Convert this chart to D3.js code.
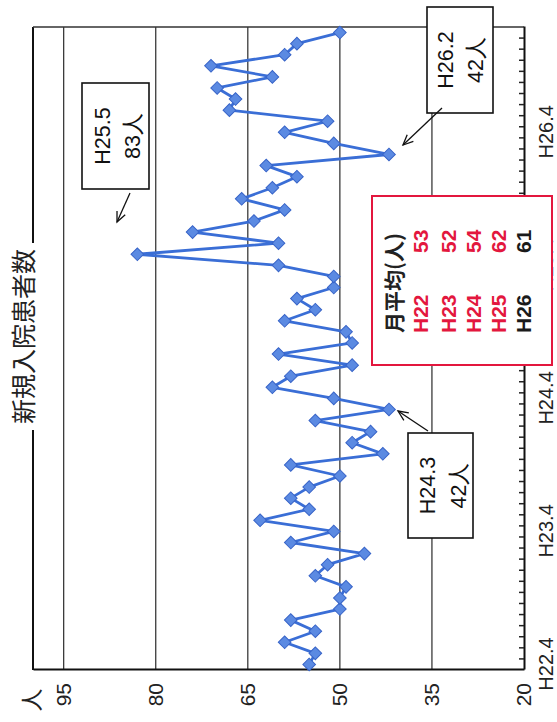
<!DOCTYPE html>
<html>
<head>
<meta charset="utf-8">
<script src="https://cdn.jsdelivr.net/npm/d3@7"></script>
<style>
  html, body { margin: 0; padding: 0; background: #fff; }
  svg { display: block; }
</style>
</head>
<body>
<svg id="chart" width="557" height="722"></svg>
<script>
// ---------------- DATA ----------------
const months = [
  "H22.4","H22.5","H22.6","H22.7","H22.8","H22.9","H22.10","H22.11","H22.12","H23.1","H23.2","H23.3",
  "H23.4","H23.5","H23.6","H23.7","H23.8","H23.9","H23.10","H23.11","H23.12","H24.1","H24.2","H24.3",
  "H24.4","H24.5","H24.6","H24.7","H24.8","H24.9","H24.10","H24.11","H24.12","H25.1","H25.2","H25.3",
  "H25.4","H25.5","H25.6","H25.7","H25.8","H25.9","H25.10","H25.11","H25.12","H26.1","H26.2","H26.3",
  "H26.4","H26.5","H26.6","H26.7","H26.8","H26.9","H26.10","H26.11","H26.12","H27.1"
];
const patients = [
  55,54,59,54,58,50,50,49,54,52,46,58,
  51,63,55,58,55,50,58,43,48,45,54,42,
  51,61,58,48,60,48,49,59,54,57,51,51,
  60,83,60,74,64,59,66,61,57,62,42,51,
  59,52,68,67,70,61,71,59,57,50
];
const monthTickLabels = ["H22.4","H23.4","H24.4","H25.4","H26.4"];
const valueTicks = [20,35,50,65,80,95];
const title = "新規入院患者数";
const unitLabel = "人";
const fiscalYears = ["H22","H23","H24","H25","H26"];
const monthlyAverages = [53,52,54,62,61];
const legendTitle = "月平均(人)";
const callouts = [
  { month: "H25.5", value: 83, line1: "H25.5", line2: "83人" },
  { month: "H26.2", value: 42, line1: "H26.2", line2: "42人" },
  { month: "H24.3", value: 42, line1: "H24.3", line2: "42人" }
];

// ---------------- LAYOUT ----------------
const W = 557, H = 722;
const svg = d3.select("#chart");
// Inner (unrotated) frame: width = H (722), height = W (557)
const g = svg.append("g").attr("transform", `translate(0,${H}) rotate(-90)`);

const plotLeft = 52, plotRight = 695, plotTop = 33, plotBottom = 524;
const latin = "'Liberation Sans', Arial, sans-serif";
const jp = "'Noto Sans CJK JP', 'Noto Sans', sans-serif";
const red = "#e3173e";

const x = d3.scalePoint().domain(months).range([plotLeft, plotRight]).padding(0.5);
const y = d3.scaleLinear().domain([20, 100]).range([plotBottom, plotTop]);
const step = x.step();

// gridlines
g.append("g").selectAll("line")
  .data(valueTicks.filter(v => v > 20))
  .join("line")
  .attr("x1", plotLeft).attr("x2", plotRight)
  .attr("y1", d => y(d)).attr("y2", d => y(d))
  .attr("stroke", "#2a2a2a").attr("stroke-width", 1.2);

// frame: top border (broken by title), right border
const titleGap = [292, 479];
g.append("line").attr("x1", plotLeft).attr("x2", titleGap[0]).attr("y1", plotTop).attr("y2", plotTop)
  .attr("stroke", "#111").attr("stroke-width", 2);
g.append("line").attr("x1", titleGap[1]).attr("x2", plotRight).attr("y1", plotTop).attr("y2", plotTop)
  .attr("stroke", "#111").attr("stroke-width", 2);
g.append("line").attr("x1", plotRight).attr("x2", plotRight).attr("y1", plotTop).attr("y2", plotBottom)
  .attr("stroke", "#333").attr("stroke-width", 1.5);

// value axis
const yAxis = g.append("g").attr("transform", `translate(${plotLeft},0)`)
  .call(d3.axisLeft(y).tickValues(valueTicks).tickSize(0).tickPadding(13));
yAxis.select(".domain").attr("stroke", "#111").attr("stroke-width", 2);
yAxis.selectAll("text").attr("font-family", latin).attr("font-size", 21).attr("fill", "#222");

// time axis
const xAxis = g.append("g").attr("transform", `translate(0,${plotBottom})`)
  .call(d3.axisBottom(x).tickValues(monthTickLabels).tickSize(0).tickPadding(15));
xAxis.select(".domain").attr("stroke", "#111").attr("stroke-width", 2);
xAxis.selectAll("text").attr("font-family", latin).attr("font-size", 20).attr("fill", "#222");
// monthly minor ticks (between categories, inside)
g.append("g").selectAll("line")
  .data(months.slice(1))
  .join("line")
  .attr("x1", d => x(d) - step / 2).attr("x2", d => x(d) - step / 2)
  .attr("y1", plotBottom).attr("y2", plotBottom - 5)
  .attr("stroke", "#222").attr("stroke-width", 1.5);

// title
g.append("text").attr("x", (titleGap[0] + titleGap[1]) / 2).attr("y", 22)
  .attr("text-anchor", "middle").attr("dominant-baseline", "central")
  .attr("font-family", jp).attr("font-size", 25).attr("fill", "#222").text(title);
// unit
g.append("text").attr("x", 22).attr("y", 30)
  .attr("text-anchor", "middle").attr("dominant-baseline", "central")
  .attr("font-family", jp).attr("font-size", 23).attr("fill", "#222").text(unitLabel);

// series
const line = d3.line().x((d, i) => x(months[i])).y(d => y(d));
g.append("path").datum(patients)
  .attr("d", line).attr("fill", "none")
  .attr("stroke", "#3a6ed6").attr("stroke-width", 2.8).attr("stroke-linejoin", "round");
g.append("g").selectAll("path")
  .data(patients)
  .join("path")
  .attr("d", d3.symbol(d3.symbolSquare, 80))
  .attr("transform", (d, i) => `translate(${x(months[i])},${y(d)}) rotate(45)`)
  .attr("fill", "#5b8ae2").attr("stroke", "#3864c8").attr("stroke-width", 1);

// callout boxes (layout positions in inner frame)
const boxLayout = [
  { x0: 533, x1: 639, y0: 82, y1: 149, b1: 110, b2: 140, arrow: [529, 130, 500, 117] },
  { x0: 609, x1: 715, y0: 427, y1: 493, b1: 453, b2: 483, arrow: [614, 442, 577, 403] },
  { x0: 184, x1: 289, y0: 408, y1: 473, b1: 435, b2: 466, arrow: [291, 428, 311, 398] }
];
callouts.forEach((c, i) => {
  const L = boxLayout[i];
  const cg = g.append("g");
  cg.append("rect").attr("x", L.x0).attr("y", L.y0)
    .attr("width", L.x1 - L.x0).attr("height", L.y1 - L.y0)
    .attr("fill", "#fff").attr("stroke", "#111").attr("stroke-width", 1.6);
  const cx = (L.x0 + L.x1) / 2;
  cg.append("text").attr("x", cx).attr("y", L.b1).attr("text-anchor", "middle")
    .attr("font-family", latin).attr("font-size", 21.5).attr("fill", "#111").text(c.line1);
  cg.append("text").attr("x", cx).attr("y", L.b2).attr("text-anchor", "middle")
    .attr("font-family", latin).attr("font-size", 21.5).attr("fill", "#111").text(c.line2);
  const [ax1, ay1, ax2, ay2] = L.arrow;
  cg.append("line").attr("x1", ax1).attr("y1", ay1).attr("x2", ax2).attr("y2", ay2)
    .attr("stroke", "#111").attr("stroke-width", 1.3);
  const ang = Math.atan2(ay1 - ay2, ax1 - ax2);
  const hl = 11, ha = 0.42;
  cg.append("path")
    .attr("d", `M${ax2 + hl * Math.cos(ang + ha)},${ay2 + hl * Math.sin(ang + ha)}L${ax2},${ay2}L${ax2 + hl * Math.cos(ang - ha)},${ay2 + hl * Math.sin(ang - ha)}`)
    .attr("fill", "none").attr("stroke", "#111").attr("stroke-width", 1.3);
});

// legend box
const lg = g.append("g");
lg.append("rect").attr("x", 357).attr("y", 372).attr("width", 169).attr("height", 180)
  .attr("fill", "#fff").attr("stroke", red).attr("stroke-width", 2);
lg.append("text").attr("x", 389).attr("y", 402)
  .attr("font-family", jp).attr("font-weight", "bold").attr("font-size", 21).attr("fill", "#222")
  .text(legendTitle);
const rowBase = [428, 456, 481, 506, 531];
fiscalYears.forEach((fy, i) => {
  const col = i < 4 ? red : "#1a1a1a";
  lg.append("text").attr("x", 389).attr("y", rowBase[i])
    .attr("font-family", latin).attr("font-weight", "bold").attr("font-size", 21).attr("fill", col).text(fy);
  lg.append("text").attr("x", 469).attr("y", rowBase[i])
    .attr("font-family", latin).attr("font-weight", "bold").attr("font-size", 21).attr("fill", col).text(monthlyAverages[i]);
});
</script>
</body>
</html>
